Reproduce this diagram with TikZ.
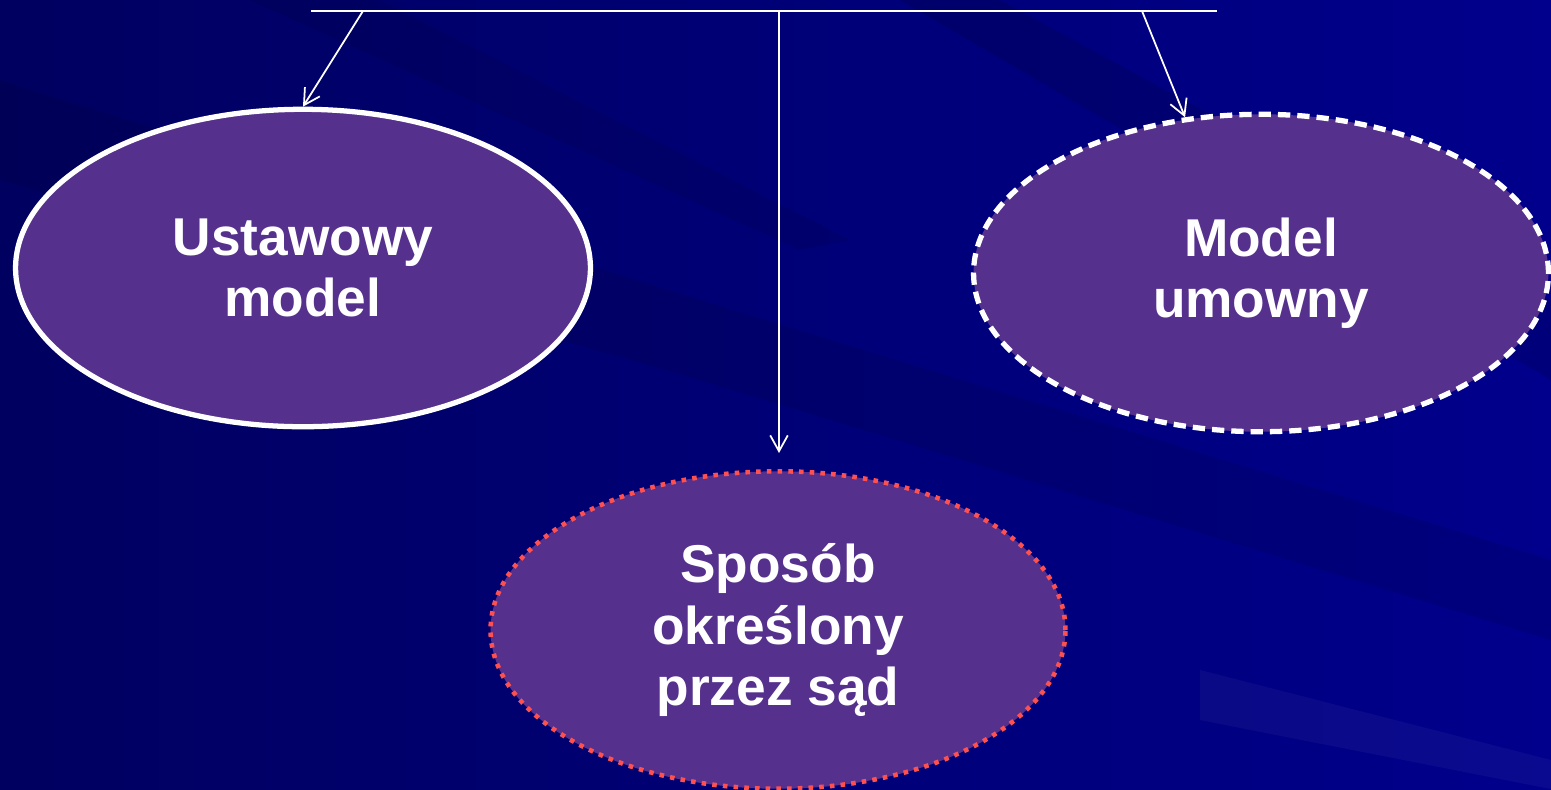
\documentclass[tikz,border=0pt]{standalone}
\usepackage{fontspec}
\setmainfont{Liberation Sans}
\usetikzlibrary{shapes.geometric,arrows.meta}

\definecolor{bgleft}{RGB}{0,0,96}
\definecolor{bgright}{RGB}{0,0,140}
\definecolor{ovalfill}{RGB}{85,48,140}
\definecolor{dotred}{RGB}{255,80,80}

\tikzset{
  oval/.style={ellipse,fill=ovalfill,minimum width=11.5cm,minimum height=6.35cm,
    inner sep=0pt,line width=3pt,text=white,align=center,
    font=\bfseries\fontsize{30.3}{35}\selectfont},
  link/.style={white,line width=1pt}
}

\begin{document}
\begin{tikzpicture}[>={Straight Barb[length=9pt,width=10pt]},x=.02cm,y=-.02cm]
% background
\useasboundingbox (0,0) rectangle (1551,789);
\shade[left color=bgleft,right color=bgright] (0,0) rectangle (1551,789);
\fill[black,opacity=.09] (0,80)--(700,300)--(1551,560)--(1551,640)--(700,380)--(0,180)--cycle;
\fill[black,opacity=.12] (1000,0)--(1551,300)--(1551,380)--(900,0)--cycle;
\fill[white,opacity=.04] (1200,670)--(1551,760)--(1551,789)--(1200,720)--cycle;
\fill[black,opacity=.08] (250,0)--(800,250)--(850,240)--(380,0)--cycle;

% ovals
\node[oval,draw=white] (ust) at (303,268) {Ustawowy\\model};
\node[oval,draw=white,dash pattern=on 7pt off 4pt] (umo) at (1261,273) {Model\\umowny};
\node[oval,draw=dotred,line width=2.6pt,dash pattern=on 2.6pt off 3.5pt] (sad) at (778,630) {Sposób\\określony\\przez sąd};

% top bar and arrows
\coordinate (barl) at (311,11);
\coordinate (barr) at (1217,11);
\coordinate (al) at (363,11);
\coordinate (am) at (779,11);
\coordinate (ar) at (1142,11);
\draw[link] (barl)--(barr);
\draw[link,->] (al)--(ust.north);
\draw[link,->] (am)--(am|-sad.north) [shorten >=.32cm];
\draw[link,->] (ar)--(umo.116);
\end{tikzpicture}
\end{document}
